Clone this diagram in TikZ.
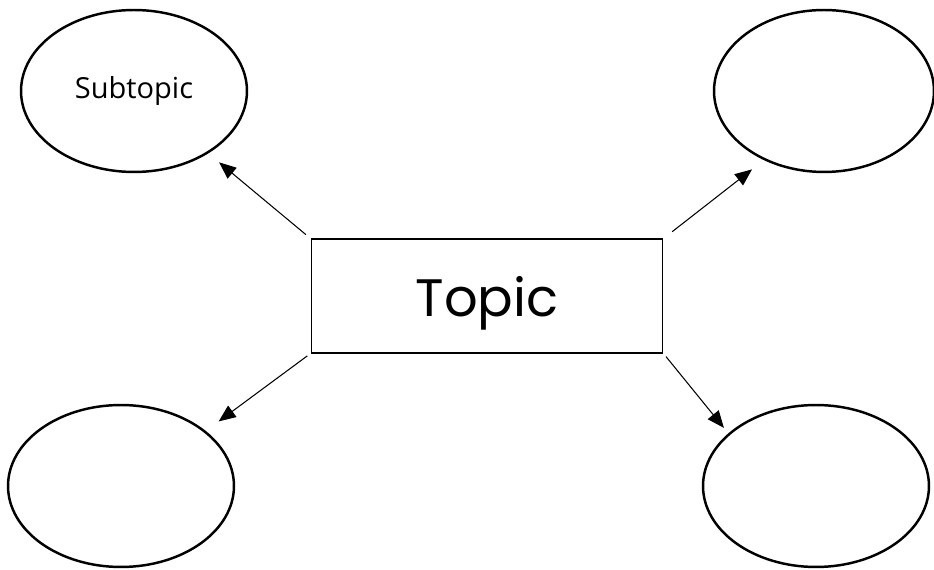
\documentclass[tikz,border=0pt]{standalone}
\usepackage{fontspec}
\newfontfamily\topicfont{Poppins}
\newfontfamily\subfont{Open Sans}
\usepackage{tikz}
\usetikzlibrary{shapes.geometric,arrows.meta}

\tikzset{
  bubble/.style={draw, ellipse, line width=1.4pt, inner sep=0pt, minimum width=4.52cm, minimum height=3.24cm, font=\subfont\fontsize{16.5}{18}\selectfont},
  topicbox/.style={draw, line width=0.6pt, inner sep=0pt, minimum width=7.04cm, minimum height=2.28cm, text depth=0pt, font=\topicfont\fontsize{30}{34}\selectfont},
  link/.style={line width=0.6pt, -{Triangle[length=0.34cm,width=0.28cm]}}
}

\begin{document}
\begin{tikzpicture}[x=0.02cm, y=-0.02cm]
\useasboundingbox (0,0) rectangle (934,570);

\node[topicbox] (topic) at (487,296) {Topic};

\node[bubble] (sub1) at (134,91) {Subtopic};
\node[bubble, minimum width=4.4cm] (sub2) at (824,91) {};
\node[bubble] (sub3) at (121,486) {};
\node[bubble] (sub4) at (816,486) {};

\draw[link, shorten <=0.12cm, shorten >=0.28cm] (topic.north west) -- (sub1.-40);
\draw[link, shorten <=0.22cm, shorten >=0.3cm] (topic.north east) -- (sub2.-131);
\draw[link, shorten <=0.08cm, shorten >=0.32cm] (topic.south west) -- (sub3.33);
\draw[link, shorten <=0.08cm, shorten >=0.14cm] (topic.south east) -- (sub4.149);
\end{tikzpicture}
\end{document}
